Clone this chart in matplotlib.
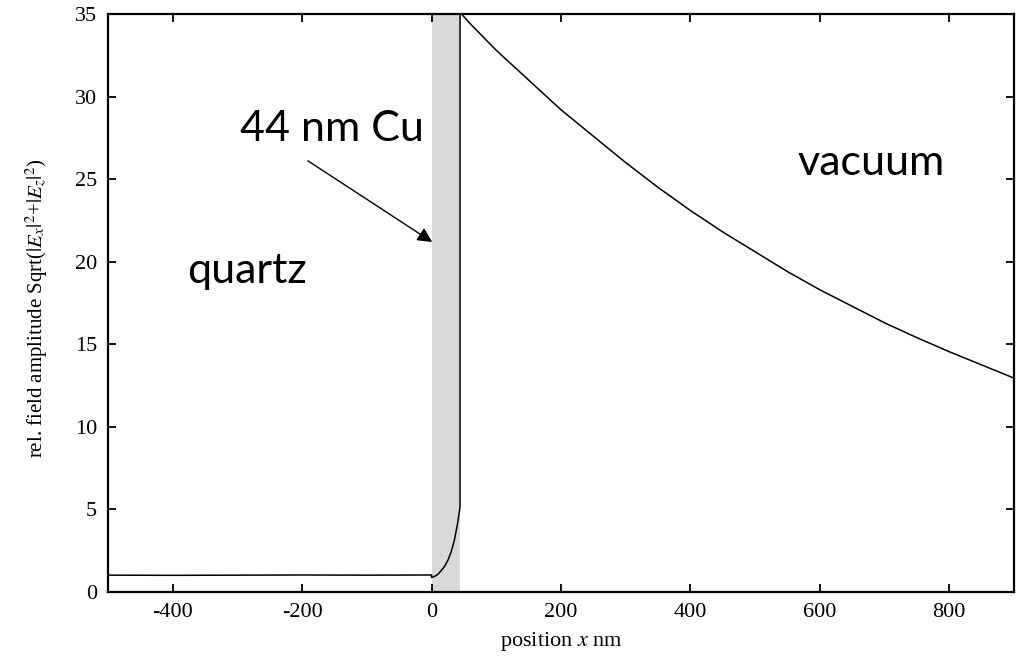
import matplotlib
matplotlib.use("Agg")
import matplotlib.pyplot as plt

plt.rcParams['font.family'] = ['Liberation Serif', 'DejaVu Serif']
plt.rcParams['mathtext.fontset'] = 'stix'
plt.rcParams['axes.unicode_minus'] = False

# data
x_quartz = [-500, -400, -300, -200, -100, 0]
y_quartz = [1.02, 1.01, 1.02, 1.03, 1.02, 1.03]

x_cu = [0, 5, 10, 15, 20, 25, 30, 35, 40, 44]
y_cu = [0.88, 0.95, 1.08, 1.3, 1.55, 1.9, 2.4, 3.1, 4.1, 5.15]

x_vac = [44, 60, 80, 100, 150, 200, 250, 300, 350, 400, 450, 500,
         550, 600, 650, 700, 750, 800, 850, 900]
y_vac = [35.1, 34.4, 33.6, 32.8, 31.0, 29.2, 27.6, 26.0, 24.5, 23.1, 21.8, 20.6,
         19.4, 18.3, 17.3, 16.3, 15.4, 14.55, 13.75, 12.95]

cu_start, cu_end = 0, 44
xticks = [-400, -200, 0, 200, 400, 600, 800]
yticks = [0, 5, 10, 15, 20, 25, 30, 35]

x_all = x_quartz + x_cu + x_vac
y_all = y_quartz + y_cu + y_vac

fig = plt.figure(figsize=(10.23, 6.61), dpi=100)
ax = fig.add_axes([108/1023, 69/661, (1014-108)/1023, (592-14)/661])

ax.axvspan(cu_start, cu_end, color='#d9d9d9', lw=0, zorder=0)
ax.plot(x_all, y_all, color='black', lw=1.1, zorder=2)

ax.set_xlim(-500, 900)
ax.set_ylim(0, 35)
ax.set_xticks(xticks)
ax.set_yticks(yticks)
ax.tick_params(direction='in', length=6, width=1.3, top=True, right=True,
               labelsize=16, pad=8)
for s in ax.spines.values():
    s.set_linewidth(1.6)
    s.set_zorder(3)

ax.set_xlabel(r"position $x$ nm", fontsize=16, labelpad=6)
ax.set_ylabel(r"rel. field amplitude Sqrt($|E_x|^2$+$|E_z|^2$)", fontsize=15)
ax.yaxis.set_label_coords(-0.064, 0.49)

sans = ['Lato', 'DejaVu Sans']
ax.text(-378, 18.7, "quartz", family=sans, fontsize=31, va='baseline', ha='left')
ax.text(565, 25.25, "vacuum", family=sans, fontsize=31, va='baseline', ha='left')
ax.text(-296, 27.3, "44 nm Cu", family=sans, fontsize=31, va='baseline', ha='left')
ax.annotate("", xy=(4.6, 21.1), xytext=(-194.6, 26.2),
            arrowprops=dict(arrowstyle='-|>', color='black', lw=1.0, mutation_scale=22))

fig.savefig("out.png", dpi=100)
